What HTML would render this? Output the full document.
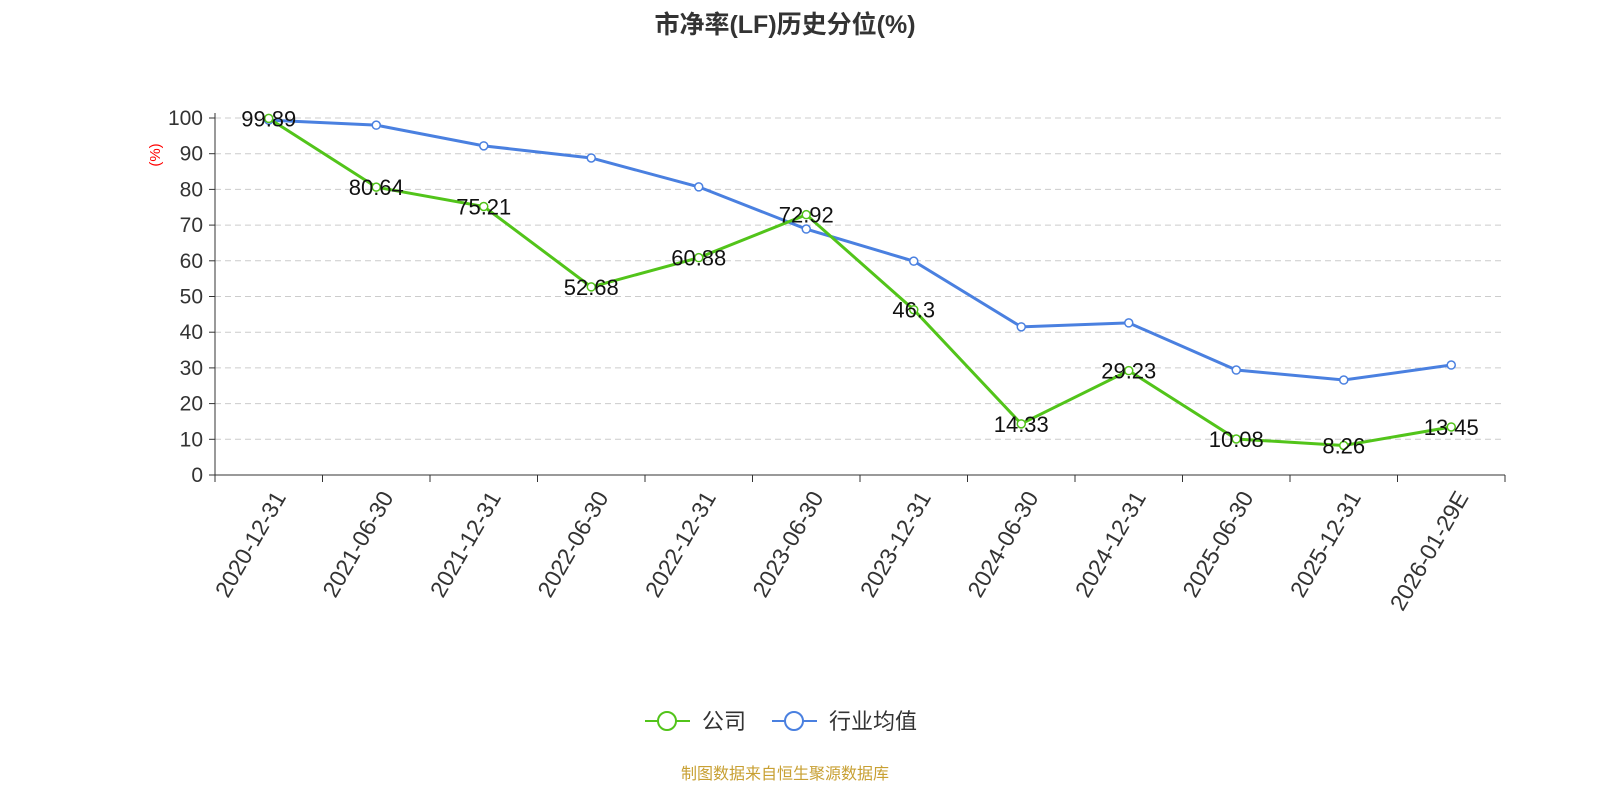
<!DOCTYPE html>
<html><head><meta charset="utf-8"><style>
body{margin:0;background:#fff;}
svg{display:block;font-family:"Liberation Sans","Noto Sans CJK SC",sans-serif;}
</style></head><body>
<svg id="chart" width="1600" height="800">
<text x="785" y="33" text-anchor="middle" font-size="25" font-weight="bold" fill="#333">市净率(LF)历史分位(%)</text>
<text x="160" y="155" text-anchor="middle" font-size="15" fill="red" transform="rotate(-90 160 155)">(%)</text>
<g id="grid"></g><g id="axes"></g><g id="series"></g>
<g>
<g>
<line x1="645" y1="721" x2="690" y2="721" stroke="#52c41a" stroke-width="2"/>
<circle cx="667" cy="721" r="9" fill="#fff" stroke="#52c41a" stroke-width="2"/>
<text x="702" y="729" font-size="22" fill="#333">公司</text></g>
<g>
<line x1="772" y1="721" x2="817" y2="721" stroke="#4a80e0" stroke-width="2"/>
<circle cx="794" cy="721" r="9" fill="#fff" stroke="#4a80e0" stroke-width="2"/>
<text x="829" y="729" font-size="22" fill="#333">行业均值</text></g>
</g>
<text x="785" y="779" text-anchor="middle" font-size="16" fill="#c8a033">制图数据来自恒生聚源数据库</text>
</svg>
<script>
const categories=["2020-12-31","2021-06-30","2021-12-31","2022-06-30","2022-12-31","2023-06-30","2023-12-31","2024-06-30","2024-12-31","2025-06-30","2025-12-31","2026-01-29E"];
const companyValues=[99.89,80.64,75.21,52.68,60.88,72.92,46.3,14.33,29.23,10.08,8.26,13.45];
const industryValues=[99.4,98,92.2,88.8,80.7,68.9,59.9,41.5,42.6,29.4,26.6,30.8];
const yTicks=[0,10,20,30,40,50,60,70,80,90,100];
const NS="http://www.w3.org/2000/svg";
const x0=215,x1=1505,y0=475,y1=118;
const bw=(x1-x0)/categories.length;
const xs=i=>x0+bw*(i+0.5);
const ys=v=>y0-(v/100)*(y0-y1);
function mk(tag,attrs,parent){const e=document.createElementNS(NS,tag);for(const k in attrs)e.setAttribute(k,attrs[k]);document.getElementById(parent).appendChild(e);return e;}
yTicks.forEach(t=>{
 if(t>0){const g=mk('line',{x1:x0,x2:x1,y1:ys(t),y2:ys(t),stroke:'#ccc','stroke-dasharray':'6,4'},'grid');
 
 }
 const tk=mk('line',{x1:x0-6,x2:x0,y1:ys(t),y2:ys(t),stroke:'#333'},'axes');
 
 
 const l=mk('text',{x:x0-12,y:ys(t)+7,'text-anchor':'end','font-size':21,fill:'#333'},'axes');l.textContent=t;
 
 
});
const ya=mk('line',{x1:x0,x2:x0,y1:y1-5,y2:y0,stroke:'#333'},'axes');


const xa=mk('line',{x1:x0,x2:x1,y1:y0,y2:y0,stroke:'#333'},'axes');


for(let i=0;i<=categories.length;i++){const t=mk('line',{x1:x0+bw*i,x2:x0+bw*i,y1:y0,y2:y0+7,stroke:'#333'},'axes');
 
 }
categories.forEach((c,i)=>{const x=xs(i)+4,y=y0+14;
 const l=mk('text',{x:x,y:y,'text-anchor':'end','font-size':23,fill:'#333',transform:`rotate(-60 ${x} ${y})`,dy:'0.7em'},'axes');l.textContent=c;
 
 });
function series(vals,color,name,labels){
 const p=mk('polyline',{points:vals.map((v,i)=>xs(i)+','+ys(v)).join(' '),fill:'none',stroke:color,'stroke-width':3},'series');
 
 
 vals.forEach((v,i)=>{const c=mk('circle',{cx:xs(i),cy:ys(v),r:4,fill:'#fff',stroke:color,'stroke-width':1.5},'series');
  
  
  if(labels){const t=mk('text',{x:xs(i),y:ys(v)+8,'text-anchor':'middle','font-size':22,fill:'#111'},'series');t.textContent=v;
  
  }});
}
series(industryValues,'#4a80e0','industry-average',false);
series(companyValues,'#52c41a','company',true);
</script>
</body></html>
